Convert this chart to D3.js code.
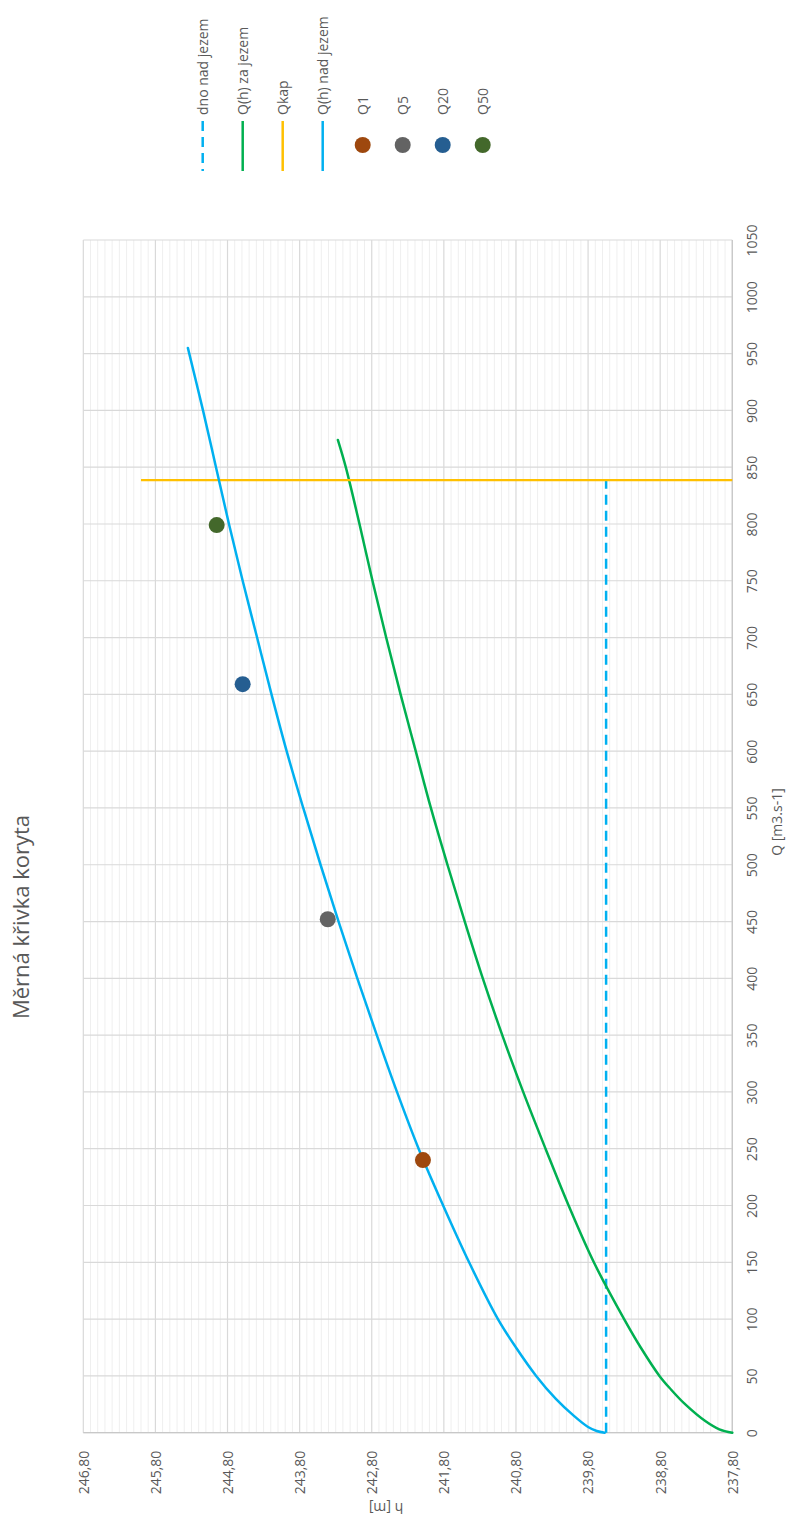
<!DOCTYPE html>
<html>
<head>
<meta charset="utf-8">
<script src="https://cdn.jsdelivr.net/npm/d3@7"></script>
<style>
  html, body { margin: 0; padding: 0; background: #fff; }
  svg { display: block; font-family: "Open Sans", "Noto Sans", sans-serif; }
</style>
</head>
<body>
<svg id="chart" width="795" height="1521"></svg>
<script>
// ---------- DATA ----------
const chartTitle = "Měrná křivka koryta";
const qAxisTitle = "Q [m3.s-1]";
const hAxisTitle = "h [m]";

const qTicks = [0, 50, 100, 150, 200, 250, 300, 350, 400, 450, 500, 550, 600, 650, 700, 750, 800, 850, 900, 950, 1000, 1050];
const hTicks = [237.8, 238.8, 239.8, 240.8, 241.8, 242.8, 243.8, 244.8, 245.8, 246.8];

// Q(h) nad jezem
const qNad = [0, 1.5, 5, 15, 30, 50, 75, 100, 150, 200, 250, 300, 350, 400, 450, 500, 550, 600, 650, 700, 750, 800, 850, 900, 955];
const hNad = [239.57, 239.68, 239.80, 240.00, 240.25, 240.52, 240.80, 241.05, 241.45, 241.81, 242.15, 242.45, 242.73, 243.00, 243.26, 243.51, 243.75, 243.98, 244.19, 244.39, 244.59, 244.78, 244.96, 245.14, 245.35];

// Q(h) za jezem
const qZa = [0, 3, 10, 26, 38, 50, 75, 100, 150, 200, 250, 300, 350, 400, 450, 500, 550, 600, 650, 700, 750, 800, 850, 874];
const hZa = [237.80, 237.98, 238.17, 238.47, 238.65, 238.81, 239.07, 239.30, 239.72, 240.07, 240.39, 240.70, 240.99, 241.26, 241.51, 241.75, 241.98, 242.19, 242.40, 242.60, 242.79, 242.97, 243.16, 243.27];

// dno nad jezem (bed level upstream of the weir)
const qDno = [0, 838.6];
const hDno = [239.55, 239.55];

// Qkap
const qKap = [838.6, 838.6];
const hKap = [237.8, 246.0];

// N-year discharges
const pointNames = ["Q1", "Q5", "Q20", "Q50"];
const pointQ = [240, 452, 659, 799];
const pointH = [242.09, 243.41, 244.59, 244.95];
const pointColors = ["#9E480E", "#636363", "#255E91", "#43682B"];

const legendNames = ["dno nad jezem", "Q(h) za jezem", "Qkap", "Q(h) nad jezem", "Q1", "Q5", "Q20", "Q50"];

// ---------- STYLES ----------
const C_BLUE = "#00B0F0", C_GREEN = "#00B050", C_YELLOW = "#FFC000";
const TXT = "#595959";

// ---------- LAYOUT (chart rotated -90°: Q runs upward, h runs leftward) ----------
const svg = d3.select("#chart");
const plotL = 83.3, plotR = 732.3, plotT = 240, plotB = 1432.7;

const x = d3.scaleLinear().domain([237.8, 246.8]).range([plotR, plotL]); // h
const y = d3.scaleLinear().domain([0, 1050]).range([plotB, plotT]);      // Q

const grid = svg.append("g");
// minor h gridlines (every 0.1 m)
const minor = d3.range(0, 91).map(i => 237.8 + i * 0.1).filter((v, i) => i % 10 !== 0);
grid.selectAll("line.minor").data(minor).join("line")
  .attr("x1", d => x(d)).attr("x2", d => x(d))
  .attr("y1", plotT).attr("y2", plotB)
  .attr("stroke", "#efefef").attr("stroke-width", 1);
// major h gridlines
grid.selectAll("line.majh").data(hTicks).join("line")
  .attr("x1", d => x(d)).attr("x2", d => x(d))
  .attr("y1", plotT).attr("y2", plotB)
  .attr("stroke", "#d9d9d9").attr("stroke-width", 1.2);
// major Q gridlines
grid.selectAll("line.majq").data(qTicks).join("line")
  .attr("x1", plotL).attr("x2", plotR)
  .attr("y1", d => y(d)).attr("y2", d => y(d))
  .attr("stroke", "#d9d9d9").attr("stroke-width", 1.2);

// axes lines
svg.append("line").attr("x1", plotL).attr("x2", plotR).attr("y1", plotB).attr("y2", plotB)
  .attr("stroke", "#c8c8c8").attr("stroke-width", 1.3);
svg.append("line").attr("x1", plotR).attr("x2", plotR).attr("y1", plotT).attr("y2", plotB)
  .attr("stroke", "#c8c8c8").attr("stroke-width", 1.3);

// Q axis (right side in picture)
const qAxis = svg.append("g").attr("transform", `translate(${plotR},0)`)
  .call(d3.axisRight(y).tickValues(qTicks).tickSize(0).tickFormat(d3.format("d")));
qAxis.select(".domain").remove();
qAxis.selectAll("text")
  .attr("x", 0).attr("y", 0).attr("dy", "0.35em")
  .attr("text-anchor", "middle")
  .attr("transform", "translate(20,0) rotate(-90)")
  .attr("fill", TXT).attr("font-size", 14).attr("font-family", "Open Sans");

// h axis (bottom in picture)
const czLocale = d3.formatLocale({decimal: ",", thousands: " ", grouping: [3], currency: ["", ""]});
const hAxis = svg.append("g").attr("transform", `translate(0,${plotB})`)
  .call(d3.axisBottom(x).tickValues(hTicks).tickSize(0).tickFormat(czLocale.format(".2f")));
hAxis.select(".domain").remove();
hAxis.selectAll("text")
  .attr("x", 0).attr("y", 0).attr("dy", "0.35em")
  .attr("text-anchor", "end")
  .attr("transform", "translate(0,18) rotate(-90)")
  .attr("fill", TXT).attr("font-size", 14).attr("font-family", "Open Sans");

// axis titles
svg.append("text").text(qAxisTitle)
  .attr("transform", `translate(777,822) rotate(-90)`)
  .attr("text-anchor", "middle").attr("dy", "0.35em")
  .attr("fill", TXT).attr("font-size", 14);
svg.append("text").text(hAxisTitle)
  .attr("transform", `translate(386,1508) rotate(180)`)
  .attr("text-anchor", "middle").attr("dy", "0.35em")
  .attr("fill", TXT).attr("font-size", 14);

// chart title
svg.append("text").text(chartTitle)
  .attr("transform", `translate(29,917) rotate(-90)`)
  .attr("text-anchor", "middle")
  .attr("fill", TXT).attr("font-size", 22);

// ---------- SERIES ----------
const line = d3.line().x(d => x(d[1])).y(d => y(d[0])).curve(d3.curveCatmullRom.alpha(0.5));
const straight = d3.line().x(d => x(d[1])).y(d => y(d[0]));

const plot = svg.append("g");
plot.append("path").datum(qDno.map((q, i) => [q, hDno[i]]))
  .attr("d", straight).attr("fill", "none")
  .attr("stroke", C_BLUE).attr("stroke-width", 2.5).attr("stroke-dasharray", "10,6");
plot.append("path").datum(qZa.map((q, i) => [q, hZa[i]]))
  .attr("d", line).attr("fill", "none")
  .attr("stroke", C_GREEN).attr("stroke-width", 2.5).attr("stroke-linecap", "round");
plot.append("path").datum(qKap.map((q, i) => [q, hKap[i]]))
  .attr("d", straight).attr("fill", "none")
  .attr("stroke", C_YELLOW).attr("stroke-width", 2.2);
plot.append("path").datum(qNad.map((q, i) => [q, hNad[i]]))
  .attr("d", line).attr("fill", "none")
  .attr("stroke", C_BLUE).attr("stroke-width", 2.5).attr("stroke-linecap", "round");

plot.selectAll("circle.pt").data(pointQ.map((q, i) => ({q, h: pointH[i], c: pointColors[i]})))
  .join("circle")
  .attr("cx", d => x(d.h)).attr("cy", d => y(d.q)).attr("r", 8)
  .attr("fill", d => d.c);

// ---------- LEGEND ----------
const legendStyles = [
  {type: "line", color: C_BLUE, dash: "10,6"},
  {type: "line", color: C_GREEN},
  {type: "line", color: C_YELLOW},
  {type: "line", color: C_BLUE},
  {type: "dot", color: pointColors[0]},
  {type: "dot", color: pointColors[1]},
  {type: "dot", color: pointColors[2]},
  {type: "dot", color: pointColors[3]}
];
const legX = d3.scalePoint().domain(legendNames).range([202.7, 482.7]);
const leg = svg.append("g").selectAll("g").data(legendNames).join("g")
  .attr("transform", d => `translate(${legX(d)},0)`);
leg.append("text").text(d => d)
  .attr("transform", "translate(0,115) rotate(-90)")
  .attr("dy", "0.35em").attr("text-anchor", "start")
  .attr("fill", TXT).attr("font-size", 14);
leg.each(function(d, i) {
  const s = legendStyles[i], g = d3.select(this);
  if (s.type === "line") {
    g.append("line").attr("x1", 0).attr("x2", 0).attr("y1", 121).attr("y2", 171)
      .attr("stroke", s.color).attr("stroke-width", 2.5)
      .attr("stroke-dasharray", s.dash || null);
  } else {
    g.append("circle").attr("cx", 0).attr("cy", 145).attr("r", 8).attr("fill", s.color);
  }
});
</script>
</body>
</html>
